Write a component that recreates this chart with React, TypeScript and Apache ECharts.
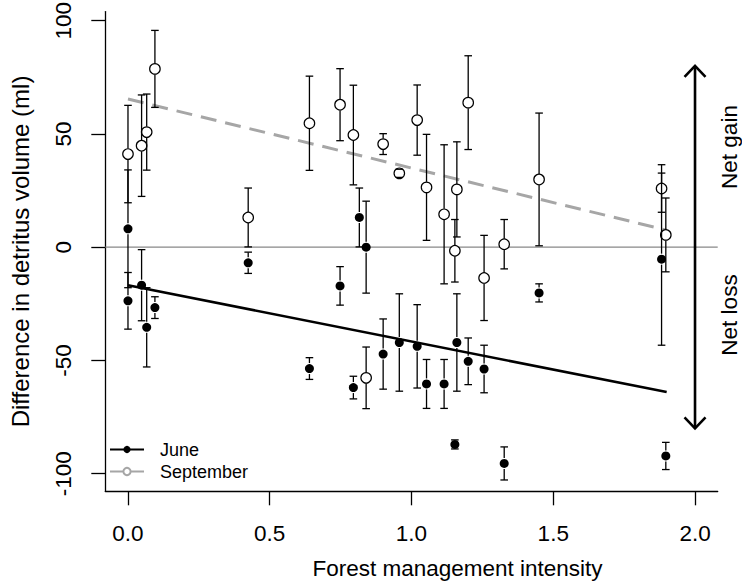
import React, { useEffect, useRef } from "react";
import * as echarts from "echarts";

const xTicks = [0, 0.5, 1.0, 1.5, 2.0];
const yTicks = [-100, -50, 0, 50, 100];

// June (filled circles)
const juneX = [0, 0, 0.048, 0.066, 0.095, 0.424, 0.64, 0.748, 0.795, 0.816, 0.84, 0.9, 0.957, 1.02, 1.053, 1.115, 1.153, 1.16, 1.2, 1.256, 1.327, 1.45, 1.882, 1.897];
const juneY = [8.1, -23.7, -16.8, -35.4, -26.7, -6.9, -53.6, -17.1, -62.0, 13.1, 0, -47.2, -42.1, -43.8, -60.4, -60.4, -87.1, -42.1, -50.4, -53.8, -95.5, -20.2, -5.3, -92.2];
const juneErr = [26, 12.5, 15.7, 17.5, 4.8, 4.7, 4.8, 8.5, 5, 13, 20.3, 15.5, 21.5, 18.4, 10.8, 10.8, 2, 21.5, 10.3, 10.5, 7.3, 4, 38, 6];

// September (open circles)
const sepX = [0, 0.048, 0.066, 0.095, 0.424, 0.64, 0.748, 0.795, 0.84, 0.9, 0.957, 1.02, 1.053, 1.115, 1.153, 1.16, 1.2, 1.256, 1.327, 1.45, 1.882, 1.897];
const sepY = [41.1, 44.8, 50.8, 78.7, 13.1, 54.7, 62.9, 49.5, -57.7, 45.5, 32.6, 56.1, 26.4, 14.5, -1.6, 25.5, 63.8, -13.6, 1.3, 29.9, 25.9, 5.4];
const sepErr = [21.5, 22.4, 16.8, 17, 13, 20.8, 15.9, 22, 13.6, 4.6, 1.8, 15.5, 23.4, 30.7, 13.8, 21, 20.7, 18.8, 10.9, 29.3, 10.5, 16.3];

// fitted regression lines
const juneFitX = [0, 1.9];
const juneFitY = [-16.8, -64.0];
const sepFitX = [0, 1.9];
const sepFitY = [65.4, 7.5];

// double arrow (x, from, to)
const arrowX = 2.0;
const arrowFrom = -80;
const arrowTo = 80;

const FONT = '"Liberation Sans", Arial, sans-serif';

export default function App() {
  const ref = useRef<HTMLDivElement>(null);
  useEffect(() => {
    document.body.style.margin = "0";
    const chart = echarts.init(ref.current!, null, { renderer: "svg" });

    const juneData = juneX.map((x, i) => [x, juneY[i], juneErr[i]]);
    const sepData = sepX.map((x, i) => [x, sepY[i], sepErr[i]]);

    const errorBar = (params: any, api: any) => {
      const x = api.value(0);
      const y = api.value(1);
      const e = api.value(2);
      const mid = api.coord([x, y]);
      const top = api.coord([x, y + e]);
      const bot = api.coord([x, y - e]);
      const hw = 3.8;
      const gap = 5.5;
      const st = { stroke: "#000", lineWidth: 1.3 };
      const children: any[] = [
        { type: "line", shape: { x1: top[0] - hw, y1: top[1], x2: top[0] + hw, y2: top[1] }, style: st },
        { type: "line", shape: { x1: bot[0] - hw, y1: bot[1], x2: bot[0] + hw, y2: bot[1] }, style: st },
      ];
      if (mid[1] - top[1] > gap) {
        children.push({ type: "line", shape: { x1: top[0], y1: top[1], x2: mid[0], y2: mid[1] - gap }, style: st });
      }
      if (bot[1] - mid[1] > gap) {
        children.push({ type: "line", shape: { x1: mid[0], y1: mid[1] + gap, x2: bot[0], y2: bot[1] }, style: st });
      }
      return { type: "group", children };
    };

    const arrowItem = (params: any, api: any) => {
      const x = api.value(0);
      const p1 = api.coord([x, api.value(2)]);
      const p0 = api.coord([x, api.value(1)]);
      const hw = 10.5;
      const hl = 11;
      const st = { stroke: "#000", lineWidth: 2.6, fill: "none" };
      return {
        type: "group",
        children: [
          { type: "line", shape: { x1: p0[0], y1: p0[1], x2: p1[0], y2: p1[1] }, style: st },
          { type: "polyline", shape: { points: [[p1[0] - hw, p1[1] + hl], [p1[0], p1[1]], [p1[0] + hw, p1[1] + hl]] }, style: st },
          { type: "polyline", shape: { points: [[p0[0] - hw, p0[1] - hl], [p0[0], p0[1]], [p0[0] + hw, p0[1] - hl]] }, style: st },
        ],
      };
    };

    chart.setOption({
      animation: false,
      backgroundColor: "#fff",
      grid: { left: 105.3, right: 742 - 717.7, top: 11.6, bottom: 584 - 491.3, containLabel: false, outerBoundsMode: "none" },
      xAxis: {
        type: "value",
        min: -0.08,
        max: 2.08,
        splitLine: { show: false },
        axisLine: { show: true, onZero: false, lineStyle: { color: "#000", width: 1.3 } },
        axisTick: { show: true, customValues: xTicks, length: 14, lineStyle: { color: "#000", width: 1.3 } },
        axisLabel: {
          customValues: xTicks,
          formatter: (v: number) => v.toFixed(1),
          fontSize: 22.5,
          fontFamily: FONT,
          color: "#000",
          margin: 31,
        },
        name: "Forest management intensity",
        nameLocation: "middle",
        nameGap: 66,
        nameMoveOverlap: false,
        nameTextStyle: { fontSize: 22.5, fontFamily: FONT, color: "#000", padding: [0, 0, 0, 92] },
      },
      yAxis: {
        type: "value",
        min: -107.8,
        max: 104,
        splitLine: { show: false },
        axisLine: { show: true, onZero: false, lineStyle: { color: "#000", width: 1.3 } },
        axisTick: { show: true, customValues: yTicks, length: 14, lineStyle: { color: "#000", width: 1.3 } },
        axisLabel: {
          customValues: yTicks,
          formatter: (v: number) => String(v),
          rotate: 90,
          fontSize: 22.5,
          fontFamily: FONT,
          color: "#000",
          margin: 30,
        },
        name: "Difference in detritus volume (ml)",
        nameLocation: "middle",
        nameRotate: 90,
        nameGap: 73,
        nameMoveOverlap: false,
        nameTextStyle: { fontSize: 24, fontFamily: FONT, color: "#000" },
      },
      legend: {
        orient: "vertical",
        left: 109,
        top: 440.5,
        padding: 0,
        itemWidth: 34,
        itemHeight: 9,
        itemGap: 4,
        selectedMode: false,
        textStyle: { fontSize: 18, lineHeight: 18, fontFamily: FONT, color: "#000", padding: [0, 0, 0, 11] },
        data: ["June", "September"],
      },
      graphic: [
        {
          type: "text",
          x: 729,
          y: 147,
          rotation: Math.PI / 2,
          style: { text: "Net gain", font: `22.5px ${FONT}`, fill: "#000", align: "center", verticalAlign: "middle" },
        },
        {
          type: "text",
          x: 729,
          y: 315,
          rotation: Math.PI / 2,
          style: { text: "Net loss", font: `22.5px ${FONT}`, fill: "#000", align: "center", verticalAlign: "middle" },
        },
      ],
      series: [
        {
          name: "zero",
          type: "line",
          data: [[-0.08, 0], [2.08, 0]],
          symbol: "none",
          silent: true,
          lineStyle: { color: "#888", width: 1.2 },
          z: 1,
        },
        // legend-only entries (solid line with marker, as in the reference key)
        {
          name: "June",
          type: "line",
          data: [],
          symbol: "circle",
          itemStyle: { color: "#000" },
          lineStyle: { color: "#000", width: 3 },
        },
        {
          name: "September",
          type: "line",
          data: [],
          symbol: "emptyCircle",
          itemStyle: { color: "#a6a6a6" },
          lineStyle: { color: "#a6a6a6", width: 3 },
        },
        {
          name: "June fit",
          type: "line",
          data: juneFitX.map((x, i) => [x, juneFitY[i]]),
          symbol: "none",
          lineStyle: { color: "#000", width: 2.6 },
          z: 2,
        },
        {
          name: "September fit",
          type: "line",
          data: sepFitX.map((x, i) => [x, sepFitY[i]]),
          symbol: "none",
          lineStyle: { color: "#a6a6a6", width: 3, type: [16, 9] },
          z: 2,
        },
        {
          name: "June points",
          type: "scatter",
          data: juneData.map((d) => [d[0], d[1]]),
          symbol: "circle",
          symbolSize: 9,
          itemStyle: { color: "#000", opacity: 1 },
          z: 3,
        },
        {
          name: "September points",
          type: "scatter",
          data: sepData.map((d) => [d[0], d[1]]),
          symbol: "circle",
          symbolSize: 10.5,
          itemStyle: { color: "#fff", borderColor: "#000", borderWidth: 1.2, opacity: 1 },
          z: 3,
        },
        {
          name: "June error",
          type: "custom",
          renderItem: errorBar,
          data: juneData,
          encode: { x: 0, y: 1 },
          silent: true,
          z: 4,
        },
        {
          name: "September error",
          type: "custom",
          renderItem: errorBar,
          data: sepData,
          encode: { x: 0, y: 1 },
          silent: true,
          z: 4,
        },
        {
          name: "arrow",
          type: "custom",
          renderItem: arrowItem,
          data: [[arrowX, arrowFrom, arrowTo]],
          encode: { x: 0, y: [1, 2] },
          clip: false,
          silent: true,
          z: 5,
        },
      ],
    });
    return () => chart.dispose();
  }, []);
  return <div ref={ref} style={{ position: "absolute", left: 0, top: 0, width: 742, height: 584 }} />;
}
